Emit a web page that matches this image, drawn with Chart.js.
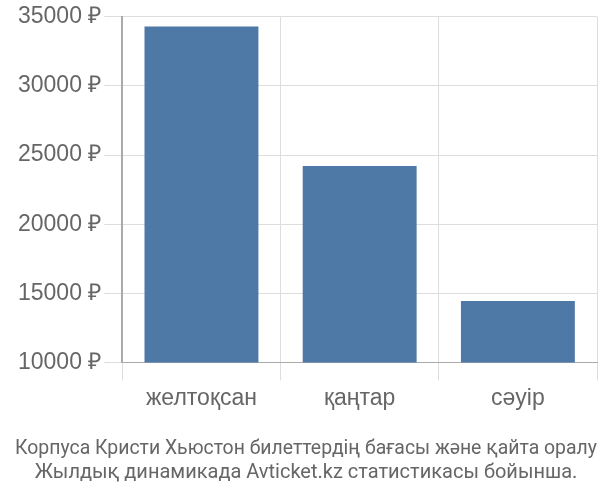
<!DOCTYPE html>
<html>
<head>
<meta charset="utf-8">
<script src="https://cdn.jsdelivr.net/npm/chart.js@4"></script>
<style>
  html, body { margin: 0; padding: 0; background: #fff; }
  #wrap { width: 600px; height: 500px; }
</style>
</head>
<body>
<div id="wrap"><canvas id="priceChart"></canvas></div>
<script>
const labels = ['желтоқсан', 'қаңтар', 'сәуір'];
const prices = [34300, 24200, 14450];
const titleLines = [
  'Корпуса Кристи Хьюстон билеттердің бағасы және қайта оралу',
  'Жылдық динамикада Avticket.kz статистикасы бойынша.',
];

const priceChart = new Chart(
  document.getElementById('priceChart'),
  {
    type: 'bar',
    data: {
      labels,
      datasets: [
        {
          data: prices,
          backgroundColor: '#4e79a7',
        },
      ],
    },
    options: {
      responsive: true,
      maintainAspectRatio: false,
      animation: false,
      layout: {
        padding: { top: 4, right: 3, left: 15, bottom: 0 },
      },
      plugins: {
        legend: { display: false },
        tooltip: { enabled: false },
        title: {
          display: true,
          position: 'bottom',
          text: titleLines,
          color: '#666',
          font: { family: 'Roboto', size: 20, weight: 'normal' },
          padding: { top: 21, bottom: 15 },
          lineHeight: 1.25,
        },
      },
      scales: {
        x: {
          grid: {
            color: '#ddd',
            tickLength: 18,
            offset: true,
          },
          border: { color: '#aaa' },
          ticks: {
            padding: 4,
            color: '#666',
            font: { family: 'Liberation Sans', size: 23 },
          },
        },
        y: {
          min: 10000,
          max: 35000,
          grid: {
            color: '#ddd',
            tickLength: 18,
          },
          border: { color: '#aaa', width: 2 },
          ticks: {
            stepSize: 5000,
            padding: 3,
            color: '#666',
            font: { family: 'Liberation Sans', size: 23 },
            callback: (v) => v + ' ₽',
          },
        },
      },
    },
  }
);
</script>
</body>
</html>
